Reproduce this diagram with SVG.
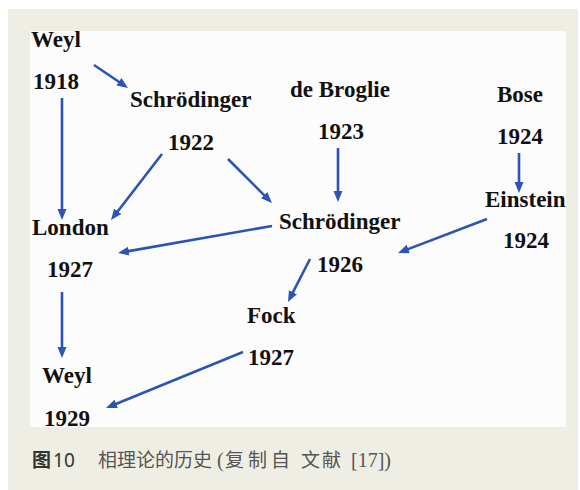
<svg xmlns="http://www.w3.org/2000/svg" width="580" height="490" viewBox="0 0 580 490">
<style>
.n{font-family:"Liberation Serif","Times New Roman",serif;font-weight:bold;font-size:23px;fill:#111}
.c{stroke:#2b54b3;stroke-width:2.6;fill:none}
.cap{font-family:"Noto Sans CJK SC","Noto Sans",sans-serif;font-size:19px;fill:#555}
.capb{font-family:"Noto Sans CJK SC","Noto Sans",sans-serif;font-size:19px;fill:#333;font-weight:bold}
.lat{font-family:"Liberation Serif",serif;font-size:20px;fill:#555}
</style>
<defs>
<marker id="ah" markerUnits="userSpaceOnUse" markerWidth="12" markerHeight="10" refX="3" refY="4.5" orient="auto">
<path d="M0,0 L11,4.5 L0,9 z" fill="#2b54b3"/>
</marker>
<clipPath id="pc"><rect x="30" y="31" width="536" height="396"/></clipPath>
</defs>
<rect x="0" y="0" width="580" height="490" fill="#ffffff"/>
<rect x="8" y="9" width="570" height="481" fill="#efeee5"/>
<rect x="30" y="31" width="536" height="396" fill="#fcfcfc"/>
<g id="connectors">
<line class="c" x1="94" y1="65" x2="121.4" y2="83.5" marker-end="url(#ah)"/>
<line class="c" x1="62" y1="98" x2="62" y2="212" marker-end="url(#ah)"/>
<line class="c" x1="162" y1="154" x2="115.9" y2="213.7" marker-end="url(#ah)"/>
<line class="c" x1="228" y1="159" x2="266.3" y2="197.3" marker-end="url(#ah)"/>
<line class="c" x1="272" y1="226" x2="125.9" y2="251.6" marker-end="url(#ah)"/>
<line class="c" x1="338" y1="148" x2="338" y2="194" marker-end="url(#ah)"/>
<line class="c" x1="519" y1="153" x2="519" y2="185" marker-end="url(#ah)"/>
<line class="c" x1="487" y1="219" x2="405.5" y2="250.1" marker-end="url(#ah)"/>
<line class="c" x1="310" y1="259" x2="291.6" y2="294.9" marker-end="url(#ah)"/>
<line class="c" x1="62" y1="292" x2="62" y2="350" marker-end="url(#ah)"/>
<line class="c" x1="243" y1="352" x2="113.4" y2="405" marker-end="url(#ah)"/>
</g>
<g id="weyl1918"><text class="n" x="31" y="47">Weyl</text><text class="n" x="33" y="89">1918</text></g>
<g id="schrodinger1922"><text class="n" x="130" y="107">Schrödinger</text><text class="n" x="168" y="150">1922</text></g>
<g id="debroglie1923"><text class="n" x="290" y="97">de Broglie</text><text class="n" x="318" y="139">1923</text></g>
<g id="bose1924"><text class="n" x="497" y="102">Bose</text><text class="n" x="497" y="144">1924</text></g>
<g id="einstein1924"><text class="n" x="485" y="207">Einstein</text><text class="n" x="503" y="248">1924</text></g>
<g id="london1927"><text class="n" x="32" y="235">London</text><text class="n" x="47" y="277">1927</text></g>
<g id="schrodinger1926"><text class="n" x="279" y="229">Schrödinger</text><text class="n" x="317" y="272">1926</text></g>
<g id="fock1927"><text class="n" x="247" y="323">Fock</text><text class="n" x="248" y="365">1927</text></g>
<g id="weyl1929" clip-path="url(#pc)"><text class="n" x="42" y="383">Weyl</text><text class="n" x="44" y="426">1929</text></g>
<g id="caption">
<text class="capb" x="32" y="467">图<tspan font-weight="normal" font-family="'Noto Sans','Liberation Sans',sans-serif" dx="2">10</tspan></text>
<text class="cap" x="98" y="467">相理论的历史</text>
<text class="lat" x="217" y="467">(</text>
<text class="cap" x="225" y="467" letter-spacing="4">复制自</text>
<text class="cap" x="301" y="467" letter-spacing="2">文献</text>
<text class="lat" x="351" y="467">[17])</text>
</g>
</svg>
